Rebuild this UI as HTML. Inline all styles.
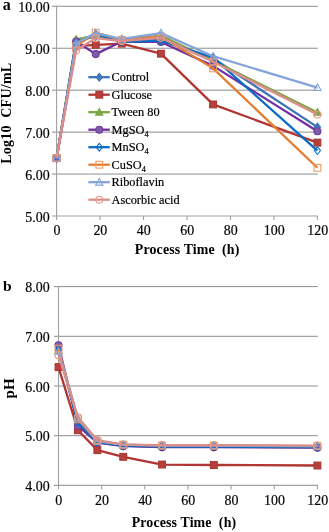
<!DOCTYPE html>
<html><head><meta charset="utf-8"><style>
html,body{margin:0;padding:0;background:#fff;}
body{width:329px;height:532px;overflow:hidden;}
svg{display:block;will-change:transform;}
.t{font-family:"Liberation Serif",serif;font-size:15px;fill:#000;stroke:#000;stroke-width:0.2px;}
.l{font-family:"Liberation Serif",serif;font-size:12.3px;fill:#000;stroke:#000;stroke-width:0.2px;}
.b{font-family:"Liberation Serif",serif;font-size:14px;font-weight:bold;fill:#000;}
</style></head><body>
<svg width="329" height="532" viewBox="0 0 329 532">
<line x1="52" y1="6.30" x2="317.80" y2="6.30" stroke="#8E8E8E" stroke-width="1.0"/>
<line x1="52" y1="48.24" x2="317.80" y2="48.24" stroke="#8E8E8E" stroke-width="1.0"/>
<line x1="52" y1="90.18" x2="317.80" y2="90.18" stroke="#8E8E8E" stroke-width="1.0"/>
<line x1="52" y1="132.12" x2="317.80" y2="132.12" stroke="#8E8E8E" stroke-width="1.0"/>
<line x1="52" y1="174.06" x2="317.80" y2="174.06" stroke="#8E8E8E" stroke-width="1.0"/>
<line x1="56.60" y1="5.80" x2="56.60" y2="216.00" stroke="#A0A0A0" stroke-width="1.1"/>
<line x1="52" y1="216.00" x2="317.90" y2="216.00" stroke="#A0A0A0" stroke-width="1.1"/>
<line x1="56.60" y1="216.00" x2="56.60" y2="220.00" stroke="#A0A0A0" stroke-width="1.1"/>
<line x1="100.07" y1="216.00" x2="100.07" y2="220.00" stroke="#A0A0A0" stroke-width="1.1"/>
<line x1="143.53" y1="216.00" x2="143.53" y2="220.00" stroke="#A0A0A0" stroke-width="1.1"/>
<line x1="187.00" y1="216.00" x2="187.00" y2="220.00" stroke="#A0A0A0" stroke-width="1.1"/>
<line x1="230.47" y1="216.00" x2="230.47" y2="220.00" stroke="#A0A0A0" stroke-width="1.1"/>
<line x1="273.93" y1="216.00" x2="273.93" y2="220.00" stroke="#A0A0A0" stroke-width="1.1"/>
<line x1="317.40" y1="216.00" x2="317.40" y2="220.00" stroke="#A0A0A0" stroke-width="1.1"/>
<text transform="translate(49.6,11.80) scale(0.93,1)" class="t" text-anchor="end">10.00</text>
<text transform="translate(49.6,53.74) scale(0.93,1)" class="t" text-anchor="end">9.00</text>
<text transform="translate(49.6,95.68) scale(0.93,1)" class="t" text-anchor="end">8.00</text>
<text transform="translate(49.6,137.62) scale(0.93,1)" class="t" text-anchor="end">7.00</text>
<text transform="translate(49.6,179.56) scale(0.93,1)" class="t" text-anchor="end">6.00</text>
<text transform="translate(49.6,221.50) scale(0.93,1)" class="t" text-anchor="end">5.00</text>
<text transform="translate(56.90,234.60) scale(0.93,1)" class="t" text-anchor="middle">0</text>
<text transform="translate(100.37,234.60) scale(0.93,1)" class="t" text-anchor="middle">20</text>
<text transform="translate(143.83,234.60) scale(0.93,1)" class="t" text-anchor="middle">40</text>
<text transform="translate(187.30,234.60) scale(0.93,1)" class="t" text-anchor="middle">60</text>
<text transform="translate(230.77,234.60) scale(0.93,1)" class="t" text-anchor="middle">80</text>
<text transform="translate(274.23,234.60) scale(0.93,1)" class="t" text-anchor="middle">100</text>
<text transform="translate(317.70,234.60) scale(0.93,1)" class="t" text-anchor="middle">120</text>
<text x="2.7" y="9.7" class="b" style="font-size:16px">a</text>
<text x="187.1" y="254.4" class="b" style="font-size:13.9px" text-anchor="middle" xml:space="preserve" textLength="104.5" lengthAdjust="spacing">Process Time  (h)</text>
<text transform="translate(11.3,113.3) rotate(-90)" class="b" style="font-size:14px" text-anchor="middle" xml:space="preserve" textLength="101" lengthAdjust="spacing">Log10  CFU/mL</text>
<polyline points="56.60,158.12 76.16,41.11 95.72,36.50 121.80,41.11 160.92,39.85 213.08,58.31 317.40,127.09" fill="none" stroke="#3C72B8" stroke-width="2.3" stroke-linejoin="round"/>
<path d="M56.60 154.22L59.70 158.12L56.60 162.02L53.50 158.12Z" fill="#4679BE" stroke="#3C72B8" stroke-width="1.1"/>
<path d="M76.16 37.21L79.26 41.11L76.16 45.01L73.06 41.11Z" fill="#4679BE" stroke="#3C72B8" stroke-width="1.1"/>
<path d="M95.72 32.60L98.82 36.50L95.72 40.40L92.62 36.50Z" fill="#4679BE" stroke="#3C72B8" stroke-width="1.1"/>
<path d="M121.80 37.21L124.90 41.11L121.80 45.01L118.70 41.11Z" fill="#4679BE" stroke="#3C72B8" stroke-width="1.1"/>
<path d="M160.92 35.95L164.02 39.85L160.92 43.75L157.82 39.85Z" fill="#4679BE" stroke="#3C72B8" stroke-width="1.1"/>
<path d="M213.08 54.41L216.18 58.31L213.08 62.21L209.98 58.31Z" fill="#4679BE" stroke="#3C72B8" stroke-width="1.1"/>
<path d="M317.40 123.19L320.50 127.09L317.40 130.99L314.30 127.09Z" fill="#4679BE" stroke="#3C72B8" stroke-width="1.1"/>
<polyline points="56.60,158.12 76.16,46.14 95.72,44.88 121.80,43.63 160.92,53.69 213.08,104.44 317.40,142.61" fill="none" stroke="#AF3632" stroke-width="2.3" stroke-linejoin="round"/>
<rect x="53.20" y="154.72" width="6.80" height="6.80" fill="#B6403C" stroke="#A93632" stroke-width="1.1"/>
<rect x="72.76" y="42.74" width="6.80" height="6.80" fill="#B6403C" stroke="#A93632" stroke-width="1.1"/>
<rect x="92.32" y="41.48" width="6.80" height="6.80" fill="#B6403C" stroke="#A93632" stroke-width="1.1"/>
<rect x="118.40" y="40.23" width="6.80" height="6.80" fill="#B6403C" stroke="#A93632" stroke-width="1.1"/>
<rect x="157.52" y="50.29" width="6.80" height="6.80" fill="#B6403C" stroke="#A93632" stroke-width="1.1"/>
<rect x="209.68" y="101.04" width="6.80" height="6.80" fill="#B6403C" stroke="#A93632" stroke-width="1.1"/>
<rect x="314.00" y="139.21" width="6.80" height="6.80" fill="#B6403C" stroke="#A93632" stroke-width="1.1"/>
<polyline points="56.60,158.12 76.16,39.43 95.72,35.66 121.80,39.85 160.92,35.66 213.08,60.82 317.40,112.41" fill="none" stroke="#7AA540" stroke-width="2.3" stroke-linejoin="round"/>
<path d="M56.60 154.32L60.20 161.02L53.00 161.02Z" fill="#7FA848" stroke="#7AA540" stroke-width="1.1" stroke-linejoin="miter"/>
<path d="M76.16 35.63L79.76 42.33L72.56 42.33Z" fill="#7FA848" stroke="#7AA540" stroke-width="1.1" stroke-linejoin="miter"/>
<path d="M95.72 31.86L99.32 38.56L92.12 38.56Z" fill="#7FA848" stroke="#7AA540" stroke-width="1.1" stroke-linejoin="miter"/>
<path d="M121.80 36.05L125.40 42.75L118.20 42.75Z" fill="#7FA848" stroke="#7AA540" stroke-width="1.1" stroke-linejoin="miter"/>
<path d="M160.92 31.86L164.52 38.56L157.32 38.56Z" fill="#7FA848" stroke="#7AA540" stroke-width="1.1" stroke-linejoin="miter"/>
<path d="M213.08 57.02L216.68 63.72L209.48 63.72Z" fill="#7FA848" stroke="#7AA540" stroke-width="1.1" stroke-linejoin="miter"/>
<path d="M317.40 108.61L321.00 115.31L313.80 115.31Z" fill="#7FA848" stroke="#7AA540" stroke-width="1.1" stroke-linejoin="miter"/>
<polyline points="56.60,158.12 76.16,41.53 95.72,54.11 121.80,41.53 160.92,41.95 213.08,65.85 317.40,131.28" fill="none" stroke="#7030A0" stroke-width="2.3" stroke-linejoin="round"/>
<circle cx="56.60" cy="158.12" r="3.5" fill="#7E5CA8" stroke="#6E3A9E" stroke-width="1.1"/>
<circle cx="76.16" cy="41.53" r="3.5" fill="#7E5CA8" stroke="#6E3A9E" stroke-width="1.1"/>
<circle cx="95.72" cy="54.11" r="3.5" fill="#7E5CA8" stroke="#6E3A9E" stroke-width="1.1"/>
<circle cx="121.80" cy="41.53" r="3.5" fill="#7E5CA8" stroke="#6E3A9E" stroke-width="1.1"/>
<circle cx="160.92" cy="41.95" r="3.5" fill="#7E5CA8" stroke="#6E3A9E" stroke-width="1.1"/>
<circle cx="213.08" cy="65.85" r="3.5" fill="#7E5CA8" stroke="#6E3A9E" stroke-width="1.1"/>
<circle cx="317.40" cy="131.28" r="3.5" fill="#7E5CA8" stroke="#6E3A9E" stroke-width="1.1"/>
<polyline points="56.60,158.12 76.16,43.21 95.72,33.98 121.80,41.95 160.92,40.69 213.08,57.47 317.40,150.57" fill="none" stroke="#0A6CC4" stroke-width="2.3" stroke-linejoin="round"/>
<path d="M56.60 154.22L59.70 158.12L56.60 162.02L53.50 158.12Z" fill="none" stroke="#0A6CC4" stroke-width="1.1"/>
<path d="M76.16 39.31L79.26 43.21L76.16 47.11L73.06 43.21Z" fill="none" stroke="#0A6CC4" stroke-width="1.1"/>
<path d="M95.72 30.08L98.82 33.98L95.72 37.88L92.62 33.98Z" fill="none" stroke="#0A6CC4" stroke-width="1.1"/>
<path d="M121.80 38.05L124.90 41.95L121.80 45.85L118.70 41.95Z" fill="none" stroke="#0A6CC4" stroke-width="1.1"/>
<path d="M160.92 36.79L164.02 40.69L160.92 44.59L157.82 40.69Z" fill="none" stroke="#0A6CC4" stroke-width="1.1"/>
<path d="M213.08 53.57L216.18 57.47L213.08 61.37L209.98 57.47Z" fill="none" stroke="#0A6CC4" stroke-width="1.1"/>
<path d="M317.40 146.67L320.50 150.57L317.40 154.47L314.30 150.57Z" fill="none" stroke="#0A6CC4" stroke-width="1.1"/>
<polyline points="56.60,158.12 76.16,46.14 95.72,32.72 121.80,39.85 160.92,36.50 213.08,68.37 317.40,167.77" fill="none" stroke="#E57D30" stroke-width="2.3" stroke-linejoin="round"/>
<rect x="53.20" y="154.72" width="6.80" height="6.80" fill="none" stroke="#EE9C5E" stroke-width="1.1"/>
<rect x="72.76" y="42.74" width="6.80" height="6.80" fill="none" stroke="#EE9C5E" stroke-width="1.1"/>
<rect x="92.32" y="29.32" width="6.80" height="6.80" fill="none" stroke="#EE9C5E" stroke-width="1.1"/>
<rect x="118.40" y="36.45" width="6.80" height="6.80" fill="none" stroke="#EE9C5E" stroke-width="1.1"/>
<rect x="157.52" y="33.10" width="6.80" height="6.80" fill="none" stroke="#EE9C5E" stroke-width="1.1"/>
<rect x="209.68" y="64.97" width="6.80" height="6.80" fill="none" stroke="#EE9C5E" stroke-width="1.1"/>
<rect x="314.00" y="164.37" width="6.80" height="6.80" fill="none" stroke="#EE9C5E" stroke-width="1.1"/>
<polyline points="56.60,158.12 76.16,43.21 95.72,33.14 121.80,39.01 160.92,33.14 213.08,56.21 317.40,87.66" fill="none" stroke="#84A4DA" stroke-width="2.3" stroke-linejoin="round"/>
<path d="M56.60 154.32L60.20 161.02L53.00 161.02Z" fill="none" stroke="#84A4DA" stroke-width="1.1" stroke-linejoin="miter"/>
<path d="M76.16 39.41L79.76 46.11L72.56 46.11Z" fill="none" stroke="#84A4DA" stroke-width="1.1" stroke-linejoin="miter"/>
<path d="M95.72 29.34L99.32 36.04L92.12 36.04Z" fill="none" stroke="#84A4DA" stroke-width="1.1" stroke-linejoin="miter"/>
<path d="M121.80 35.21L125.40 41.91L118.20 41.91Z" fill="none" stroke="#84A4DA" stroke-width="1.1" stroke-linejoin="miter"/>
<path d="M160.92 29.34L164.52 36.04L157.32 36.04Z" fill="none" stroke="#84A4DA" stroke-width="1.1" stroke-linejoin="miter"/>
<path d="M213.08 52.41L216.68 59.11L209.48 59.11Z" fill="none" stroke="#84A4DA" stroke-width="1.1" stroke-linejoin="miter"/>
<path d="M317.40 83.86L321.00 90.56L313.80 90.56Z" fill="none" stroke="#84A4DA" stroke-width="1.1" stroke-linejoin="miter"/>
<polyline points="56.60,158.12 76.16,50.34 95.72,38.17 121.80,41.11 160.92,37.75 213.08,61.66 317.40,114.51" fill="none" stroke="#DC8E8A" stroke-width="2.3" stroke-linejoin="round"/>
<circle cx="56.60" cy="158.12" r="3.5" fill="none" stroke="#E49A88" stroke-width="1.1"/>
<circle cx="76.16" cy="50.34" r="3.5" fill="none" stroke="#E49A88" stroke-width="1.1"/>
<circle cx="95.72" cy="38.17" r="3.5" fill="none" stroke="#E49A88" stroke-width="1.1"/>
<circle cx="121.80" cy="41.11" r="3.5" fill="none" stroke="#E49A88" stroke-width="1.1"/>
<circle cx="160.92" cy="37.75" r="3.5" fill="none" stroke="#E49A88" stroke-width="1.1"/>
<circle cx="213.08" cy="61.66" r="3.5" fill="none" stroke="#E49A88" stroke-width="1.1"/>
<circle cx="317.40" cy="114.51" r="3.5" fill="none" stroke="#E49A88" stroke-width="1.1"/>
<line x1="88.4" y1="77.20" x2="109.8" y2="77.20" stroke="#3C72B8" stroke-width="2.3" stroke-linecap="butt"/>
<path d="M99.30 73.30L102.40 77.20L99.30 81.10L96.20 77.20Z" fill="#4679BE" stroke="#3C72B8" stroke-width="1.1"/>
<text x="111.6" y="81.40" class="l">Control</text>
<line x1="88.4" y1="94.70" x2="109.8" y2="94.70" stroke="#AF3632" stroke-width="2.3" stroke-linecap="butt"/>
<rect x="95.90" y="91.30" width="6.80" height="6.80" fill="#B6403C" stroke="#A93632" stroke-width="1.1"/>
<text x="111.6" y="98.90" class="l">Glucose</text>
<line x1="88.4" y1="112.20" x2="109.8" y2="112.20" stroke="#7AA540" stroke-width="2.3" stroke-linecap="butt"/>
<path d="M99.30 108.40L102.90 115.10L95.70 115.10Z" fill="#7FA848" stroke="#7AA540" stroke-width="1.1" stroke-linejoin="miter"/>
<text x="111.6" y="116.40" class="l">Tween 80</text>
<line x1="88.4" y1="129.70" x2="109.8" y2="129.70" stroke="#7030A0" stroke-width="2.3" stroke-linecap="butt"/>
<circle cx="99.30" cy="129.70" r="3.5" fill="#7E5CA8" stroke="#6E3A9E" stroke-width="1.1"/>
<text x="111.6" y="133.90" class="l">MgSO<tspan style="font-size:8.2px" dy="2.6">4</tspan></text>
<line x1="88.4" y1="147.20" x2="109.8" y2="147.20" stroke="#0A6CC4" stroke-width="2.3" stroke-linecap="butt"/>
<path d="M99.30 143.30L102.40 147.20L99.30 151.10L96.20 147.20Z" fill="none" stroke="#0A6CC4" stroke-width="1.1"/>
<text x="111.6" y="151.40" class="l">MnSO<tspan style="font-size:8.2px" dy="2.6">4</tspan></text>
<line x1="88.4" y1="164.70" x2="109.8" y2="164.70" stroke="#E57D30" stroke-width="2.3" stroke-linecap="butt"/>
<rect x="95.90" y="161.30" width="6.80" height="6.80" fill="none" stroke="#EE9C5E" stroke-width="1.1"/>
<text x="111.6" y="168.90" class="l">CuSO<tspan style="font-size:8.2px" dy="2.6">4</tspan></text>
<line x1="88.4" y1="182.20" x2="109.8" y2="182.20" stroke="#84A4DA" stroke-width="2.3" stroke-linecap="butt"/>
<path d="M99.30 178.40L102.90 185.10L95.70 185.10Z" fill="none" stroke="#84A4DA" stroke-width="1.1" stroke-linejoin="miter"/>
<text x="111.6" y="186.40" class="l">Riboflavin</text>
<line x1="88.4" y1="199.70" x2="109.8" y2="199.70" stroke="#DC8E8A" stroke-width="2.3" stroke-linecap="butt"/>
<circle cx="99.30" cy="199.70" r="3.5" fill="none" stroke="#E49A88" stroke-width="1.1"/>
<text x="111.6" y="203.90" class="l">Ascorbic acid</text>
<line x1="54" y1="286.60" x2="317.80" y2="286.60" stroke="#8E8E8E" stroke-width="1.0"/>
<line x1="54" y1="336.30" x2="317.80" y2="336.30" stroke="#8E8E8E" stroke-width="1.0"/>
<line x1="54" y1="386.00" x2="317.80" y2="386.00" stroke="#8E8E8E" stroke-width="1.0"/>
<line x1="54" y1="435.70" x2="317.80" y2="435.70" stroke="#8E8E8E" stroke-width="1.0"/>
<line x1="58.50" y1="286.10" x2="58.50" y2="485.40" stroke="#A0A0A0" stroke-width="1.1"/>
<line x1="54" y1="485.40" x2="317.90" y2="485.40" stroke="#A0A0A0" stroke-width="1.1"/>
<line x1="58.50" y1="485.40" x2="58.50" y2="489.40" stroke="#A0A0A0" stroke-width="1.1"/>
<line x1="101.65" y1="485.40" x2="101.65" y2="489.40" stroke="#A0A0A0" stroke-width="1.1"/>
<line x1="144.80" y1="485.40" x2="144.80" y2="489.40" stroke="#A0A0A0" stroke-width="1.1"/>
<line x1="187.95" y1="485.40" x2="187.95" y2="489.40" stroke="#A0A0A0" stroke-width="1.1"/>
<line x1="231.10" y1="485.40" x2="231.10" y2="489.40" stroke="#A0A0A0" stroke-width="1.1"/>
<line x1="274.25" y1="485.40" x2="274.25" y2="489.40" stroke="#A0A0A0" stroke-width="1.1"/>
<line x1="317.40" y1="485.40" x2="317.40" y2="489.40" stroke="#A0A0A0" stroke-width="1.1"/>
<text transform="translate(49.6,292.20) scale(0.93,1)" class="t" text-anchor="end">8.00</text>
<text transform="translate(49.6,341.90) scale(0.93,1)" class="t" text-anchor="end">7.00</text>
<text transform="translate(49.6,391.60) scale(0.93,1)" class="t" text-anchor="end">6.00</text>
<text transform="translate(49.6,441.30) scale(0.93,1)" class="t" text-anchor="end">5.00</text>
<text transform="translate(49.6,491.00) scale(0.93,1)" class="t" text-anchor="end">4.00</text>
<text transform="translate(58.80,504.50) scale(0.93,1)" class="t" text-anchor="middle">0</text>
<text transform="translate(101.95,504.50) scale(0.93,1)" class="t" text-anchor="middle">20</text>
<text transform="translate(145.10,504.50) scale(0.93,1)" class="t" text-anchor="middle">40</text>
<text transform="translate(188.25,504.50) scale(0.93,1)" class="t" text-anchor="middle">60</text>
<text transform="translate(231.40,504.50) scale(0.93,1)" class="t" text-anchor="middle">80</text>
<text transform="translate(274.55,504.50) scale(0.93,1)" class="t" text-anchor="middle">100</text>
<text transform="translate(317.70,504.50) scale(0.93,1)" class="t" text-anchor="middle">120</text>
<text x="2.9" y="290.7" class="b" style="font-size:15.6px">b</text>
<text x="183.9" y="527.4" class="b" style="font-size:13.9px" text-anchor="middle" xml:space="preserve" textLength="104.5" lengthAdjust="spacing">Process Time  (h)</text>
<text transform="translate(13.6,388.4) rotate(-90)" class="b" style="font-size:15px" text-anchor="middle">pH</text>
<polyline points="58.50,349.22 77.92,421.78 97.34,442.16 123.22,445.64 162.06,446.63 213.84,446.63 317.40,447.13" fill="none" stroke="#3C72B8" stroke-width="2.3" stroke-linejoin="round"/>
<path d="M58.50 345.32L61.60 349.22L58.50 353.12L55.40 349.22Z" fill="#4679BE" stroke="#3C72B8" stroke-width="1.1"/>
<path d="M77.92 417.88L81.02 421.78L77.92 425.68L74.82 421.78Z" fill="#4679BE" stroke="#3C72B8" stroke-width="1.1"/>
<path d="M97.34 438.26L100.44 442.16L97.34 446.06L94.24 442.16Z" fill="#4679BE" stroke="#3C72B8" stroke-width="1.1"/>
<path d="M123.22 441.74L126.32 445.64L123.22 449.54L120.12 445.64Z" fill="#4679BE" stroke="#3C72B8" stroke-width="1.1"/>
<path d="M162.06 442.73L165.16 446.63L162.06 450.53L158.96 446.63Z" fill="#4679BE" stroke="#3C72B8" stroke-width="1.1"/>
<path d="M213.84 442.73L216.94 446.63L213.84 450.53L210.74 446.63Z" fill="#4679BE" stroke="#3C72B8" stroke-width="1.1"/>
<path d="M317.40 443.23L320.50 447.13L317.40 451.03L314.30 447.13Z" fill="#4679BE" stroke="#3C72B8" stroke-width="1.1"/>
<polyline points="58.50,367.11 77.92,430.23 97.34,450.11 123.22,456.82 162.06,464.53 213.84,465.02 317.40,465.52" fill="none" stroke="#AF3632" stroke-width="2.3" stroke-linejoin="round"/>
<rect x="55.10" y="363.71" width="6.80" height="6.80" fill="#B6403C" stroke="#A93632" stroke-width="1.1"/>
<rect x="74.52" y="426.83" width="6.80" height="6.80" fill="#B6403C" stroke="#A93632" stroke-width="1.1"/>
<rect x="93.94" y="446.71" width="6.80" height="6.80" fill="#B6403C" stroke="#A93632" stroke-width="1.1"/>
<rect x="119.82" y="453.42" width="6.80" height="6.80" fill="#B6403C" stroke="#A93632" stroke-width="1.1"/>
<rect x="158.66" y="461.13" width="6.80" height="6.80" fill="#B6403C" stroke="#A93632" stroke-width="1.1"/>
<rect x="210.44" y="461.62" width="6.80" height="6.80" fill="#B6403C" stroke="#A93632" stroke-width="1.1"/>
<rect x="314.00" y="462.12" width="6.80" height="6.80" fill="#B6403C" stroke="#A93632" stroke-width="1.1"/>
<polyline points="58.50,350.22 77.92,419.80 97.34,441.17 123.22,445.14 162.06,445.64 213.84,445.64 317.40,446.14" fill="none" stroke="#7AA540" stroke-width="2.3" stroke-linejoin="round"/>
<path d="M58.50 346.42L62.10 353.12L54.90 353.12Z" fill="#7FA848" stroke="#7AA540" stroke-width="1.1" stroke-linejoin="miter"/>
<path d="M77.92 416.00L81.52 422.70L74.32 422.70Z" fill="#7FA848" stroke="#7AA540" stroke-width="1.1" stroke-linejoin="miter"/>
<path d="M97.34 437.37L100.94 444.07L93.74 444.07Z" fill="#7FA848" stroke="#7AA540" stroke-width="1.1" stroke-linejoin="miter"/>
<path d="M123.22 441.34L126.82 448.04L119.62 448.04Z" fill="#7FA848" stroke="#7AA540" stroke-width="1.1" stroke-linejoin="miter"/>
<path d="M162.06 441.84L165.66 448.54L158.46 448.54Z" fill="#7FA848" stroke="#7AA540" stroke-width="1.1" stroke-linejoin="miter"/>
<path d="M213.84 441.84L217.44 448.54L210.24 448.54Z" fill="#7FA848" stroke="#7AA540" stroke-width="1.1" stroke-linejoin="miter"/>
<path d="M317.40 442.34L321.00 449.04L313.80 449.04Z" fill="#7FA848" stroke="#7AA540" stroke-width="1.1" stroke-linejoin="miter"/>
<polyline points="58.50,345.25 77.92,425.76 97.34,442.66 123.22,446.14 162.06,447.13 213.84,447.13 317.40,447.63" fill="none" stroke="#7030A0" stroke-width="2.3" stroke-linejoin="round"/>
<circle cx="58.50" cy="345.25" r="3.5" fill="#7E5CA8" stroke="#6E3A9E" stroke-width="1.1"/>
<circle cx="77.92" cy="425.76" r="3.5" fill="#7E5CA8" stroke="#6E3A9E" stroke-width="1.1"/>
<circle cx="97.34" cy="442.66" r="3.5" fill="#7E5CA8" stroke="#6E3A9E" stroke-width="1.1"/>
<circle cx="123.22" cy="446.14" r="3.5" fill="#7E5CA8" stroke="#6E3A9E" stroke-width="1.1"/>
<circle cx="162.06" cy="447.13" r="3.5" fill="#7E5CA8" stroke="#6E3A9E" stroke-width="1.1"/>
<circle cx="213.84" cy="447.13" r="3.5" fill="#7E5CA8" stroke="#6E3A9E" stroke-width="1.1"/>
<circle cx="317.40" cy="447.63" r="3.5" fill="#7E5CA8" stroke="#6E3A9E" stroke-width="1.1"/>
<polyline points="58.50,350.22 77.92,422.78 97.34,442.16 123.22,445.64 162.06,446.63 213.84,446.63 317.40,447.13" fill="none" stroke="#0A6CC4" stroke-width="2.3" stroke-linejoin="round"/>
<path d="M58.50 346.32L61.60 350.22L58.50 354.12L55.40 350.22Z" fill="none" stroke="#0A6CC4" stroke-width="1.1"/>
<path d="M77.92 418.88L81.02 422.78L77.92 426.68L74.82 422.78Z" fill="none" stroke="#0A6CC4" stroke-width="1.1"/>
<path d="M97.34 438.26L100.44 442.16L97.34 446.06L94.24 442.16Z" fill="none" stroke="#0A6CC4" stroke-width="1.1"/>
<path d="M123.22 441.74L126.32 445.64L123.22 449.54L120.12 445.64Z" fill="none" stroke="#0A6CC4" stroke-width="1.1"/>
<path d="M162.06 442.73L165.16 446.63L162.06 450.53L158.96 446.63Z" fill="none" stroke="#0A6CC4" stroke-width="1.1"/>
<path d="M213.84 442.73L216.94 446.63L213.84 450.53L210.74 446.63Z" fill="none" stroke="#0A6CC4" stroke-width="1.1"/>
<path d="M317.40 443.23L320.50 447.13L317.40 451.03L314.30 447.13Z" fill="none" stroke="#0A6CC4" stroke-width="1.1"/>
<polyline points="58.50,348.73 77.92,419.30 97.34,441.17 123.22,444.65 162.06,445.64 213.84,445.64 317.40,446.14" fill="none" stroke="#E57D30" stroke-width="2.3" stroke-linejoin="round"/>
<rect x="55.10" y="345.33" width="6.80" height="6.80" fill="none" stroke="#EE9C5E" stroke-width="1.1"/>
<rect x="74.52" y="415.90" width="6.80" height="6.80" fill="none" stroke="#EE9C5E" stroke-width="1.1"/>
<rect x="93.94" y="437.77" width="6.80" height="6.80" fill="none" stroke="#EE9C5E" stroke-width="1.1"/>
<rect x="119.82" y="441.25" width="6.80" height="6.80" fill="none" stroke="#EE9C5E" stroke-width="1.1"/>
<rect x="158.66" y="442.24" width="6.80" height="6.80" fill="none" stroke="#EE9C5E" stroke-width="1.1"/>
<rect x="210.44" y="442.24" width="6.80" height="6.80" fill="none" stroke="#EE9C5E" stroke-width="1.1"/>
<rect x="314.00" y="442.74" width="6.80" height="6.80" fill="none" stroke="#EE9C5E" stroke-width="1.1"/>
<polyline points="58.50,351.21 77.92,418.31 97.34,441.17 123.22,444.65 162.06,445.64 213.84,445.64 317.40,446.14" fill="none" stroke="#84A4DA" stroke-width="2.3" stroke-linejoin="round"/>
<path d="M58.50 347.41L62.10 354.11L54.90 354.11Z" fill="none" stroke="#84A4DA" stroke-width="1.1" stroke-linejoin="miter"/>
<path d="M77.92 414.50L81.52 421.20L74.32 421.20Z" fill="none" stroke="#84A4DA" stroke-width="1.1" stroke-linejoin="miter"/>
<path d="M97.34 437.37L100.94 444.07L93.74 444.07Z" fill="none" stroke="#84A4DA" stroke-width="1.1" stroke-linejoin="miter"/>
<path d="M123.22 440.85L126.82 447.55L119.62 447.55Z" fill="none" stroke="#84A4DA" stroke-width="1.1" stroke-linejoin="miter"/>
<path d="M162.06 441.84L165.66 448.54L158.46 448.54Z" fill="none" stroke="#84A4DA" stroke-width="1.1" stroke-linejoin="miter"/>
<path d="M213.84 441.84L217.44 448.54L210.24 448.54Z" fill="none" stroke="#84A4DA" stroke-width="1.1" stroke-linejoin="miter"/>
<path d="M317.40 442.34L321.00 449.04L313.80 449.04Z" fill="none" stroke="#84A4DA" stroke-width="1.1" stroke-linejoin="miter"/>
<polyline points="58.50,355.19 77.92,417.31 97.34,440.17 123.22,444.65 162.06,445.14 213.84,445.14 317.40,445.64" fill="none" stroke="#DC8E8A" stroke-width="2.3" stroke-linejoin="round"/>
<circle cx="58.50" cy="355.19" r="3.5" fill="none" stroke="#E49A88" stroke-width="1.1"/>
<circle cx="77.92" cy="417.31" r="3.5" fill="none" stroke="#E49A88" stroke-width="1.1"/>
<circle cx="97.34" cy="440.17" r="3.5" fill="none" stroke="#E49A88" stroke-width="1.1"/>
<circle cx="123.22" cy="444.65" r="3.5" fill="none" stroke="#E49A88" stroke-width="1.1"/>
<circle cx="162.06" cy="445.14" r="3.5" fill="none" stroke="#E49A88" stroke-width="1.1"/>
<circle cx="213.84" cy="445.14" r="3.5" fill="none" stroke="#E49A88" stroke-width="1.1"/>
<circle cx="317.40" cy="445.64" r="3.5" fill="none" stroke="#E49A88" stroke-width="1.1"/>
</svg>
</body></html>
